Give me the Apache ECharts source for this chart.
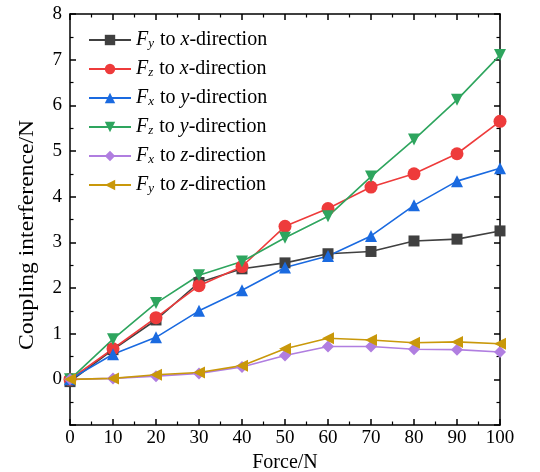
<!DOCTYPE html>
<html><head><meta charset="utf-8">
<script src="https://cdn.jsdelivr.net/npm/echarts@6/dist/echarts.min.js"></script>
<style>html,body{margin:0;padding:0;background:#fff}#c{width:540px;height:472px}</style>
</head><body><div id="c"></div>
<script>
const forces = [0,10,20,30,40,50,60,70,80,90,100];
const fyToX = [-0.05,0.65,1.3,2.12,2.42,2.55,2.75,2.8,3.03,3.07,3.25];
const fzToX = [0,0.67,1.35,2.05,2.47,3.35,3.74,4.21,4.5,4.94,5.65];
const fxToY = [0,0.55,0.92,1.5,1.95,2.45,2.7,3.14,3.81,4.34,4.62];
const fzToY = [0,0.88,1.67,2.28,2.58,3.1,3.57,4.44,5.25,6.12,7.1];
const fxToZ = [0,0.02,0.07,0.13,0.27,0.52,0.72,0.72,0.66,0.65,0.6];
const fyToZ = [0,0.02,0.1,0.15,0.3,0.67,0.9,0.86,0.8,0.82,0.78];
const seriesNames = ['Fy to x','Fz to x','Fx to y','Fz to y','Fx to z','Fy to z'];
const legendParts = {
  'Fy to x':['y','x'], 'Fz to x':['z','x'], 'Fx to y':['x','y'],
  'Fz to y':['z','y'], 'Fx to z':['x','z'], 'Fy to z':['y','z']
};
const xTitle = 'Force/N';
const yTitle = 'Coupling interference/N';
const font = 'Liberation Serif';
const colors = ['#404040','#ee3b3b','#1a6ae0','#2ea55e','#b07ee0','#c9980a'];
const symbols = ['rect','circle','triangle','triangle','diamond','triangle'];
const rotates = [0,0,0,180,0,90];
const sizes = [11,13,12,12,12,12];
const datasets = [fyToX,fzToX,fxToY,fzToY,fxToZ,fyToZ];

const chart = echarts.init(document.getElementById('c'), null, {renderer:'canvas'});
const axisCommon = {
  axisLine:{show:true,onZero:false,lineStyle:{color:'#000',width:1.5}},
  axisTick:{show:true,inside:true,length:6,lineStyle:{color:'#000',width:1.5}},
  minorTick:{show:true,splitNumber:2,length:3.5,lineStyle:{color:'#000',width:1.2}},
  splitLine:{show:false}
};
chart.setOption({
  animation:false,
  backgroundColor:'#fff',
  textStyle:{fontFamily:font},
  grid:{left:70,right:40,top:14,bottom:47,containLabel:false,outerBoundsMode:'none'},
  legend:{
    left:83, top:20, orient:'vertical', itemWidth:42, itemHeight:13, itemGap:4,
    data:seriesNames,
    formatter:function(n){const p=legendParts[n];return '{i|F}{s|'+p[0]+'}{t| to }{i|'+p[1]+'}{t|-direction}';},
    textStyle:{fontFamily:font,fontSize:20,color:'#000',lineHeight:20,
      rich:{i:{fontStyle:'italic',fontFamily:font,fontSize:20,color:'#000',lineHeight:20},
            s:{fontStyle:'italic',fontFamily:font,fontSize:13,color:'#000',verticalAlign:'bottom',padding:[12,1,0,0],lineHeight:20},
            t:{fontFamily:font,fontSize:20,color:'#000',lineHeight:20}}}
  },
  graphic:[{
    type:'text', x:28, y:235, rotation:Math.PI/2, scaleX:1.18, scaleY:1,
    style:{text:yTitle,fontFamily:font,fontSize:20,fill:'#000',align:'center',verticalAlign:'middle'}
  }],
  xAxis:[
    Object.assign({type:'value',min:0,max:100,interval:10,position:'bottom',
      name:xTitle,nameLocation:'middle',nameGap:24,
      nameTextStyle:{fontFamily:font,fontSize:20,color:'#000'},
      axisLabel:{fontFamily:font,fontSize:19,color:'#000',margin:4}},axisCommon),
    Object.assign({type:'value',min:0,max:100,interval:10,position:'top',axisLabel:{show:false}},axisCommon)
  ],
  yAxis:[
    Object.assign({type:'value',min:-1,max:8,interval:1,position:'left',
      axisLabel:{fontFamily:font,fontSize:19,color:'#000',margin:8,
        formatter:function(v){return v<0?'':String(v);}}},axisCommon),
    Object.assign({type:'value',min:-1,max:8,interval:1,position:'right',axisLabel:{show:false}},axisCommon)
  ],
  series:datasets.map(function(d,i){
    return {name:seriesNames[i],type:'line',xAxisIndex:0,yAxisIndex:0,
      data:forces.map(function(f,j){return [f,d[j]];}),
      symbol:symbols[i],symbolRotate:rotates[i],symbolSize:sizes[i],showAllSymbol:true,
      itemStyle:{color:colors[i]},lineStyle:{color:colors[i],width:1.6}};
  })
});
</script></body></html>
